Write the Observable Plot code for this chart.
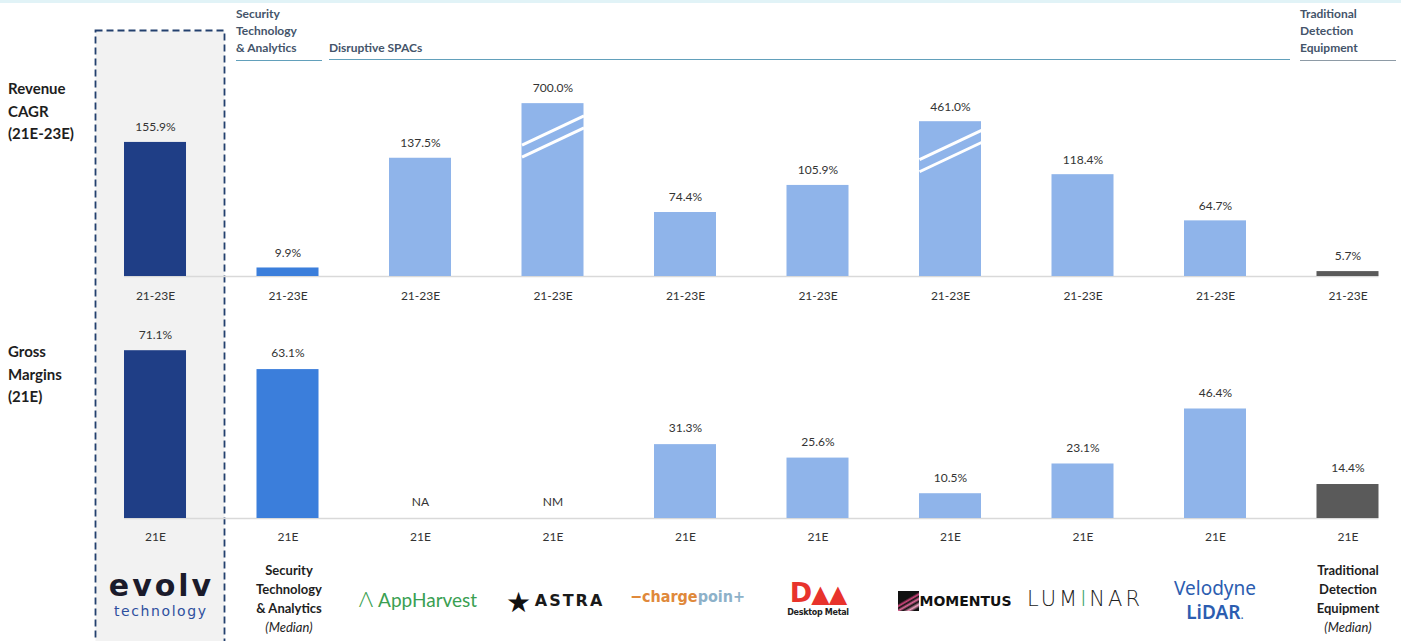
<!DOCTYPE html>
<html>
<head>
<meta charset="utf-8">
<script src="https://cdn.jsdelivr.net/npm/d3@7"></script>
<script src="https://cdn.jsdelivr.net/npm/@observablehq/plot@0.6"></script>
<style>
  html, body { margin: 0; padding: 0; background: #fff; }
  #page { position: relative; width: 1401px; height: 641px; overflow: hidden; font-family: Lato, "Open Sans", sans-serif; color: #222; }
  .abs { position: absolute; }
  .hdr { font-size: 12px; font-weight: 700; line-height: 17px; color: #44546a; }
  .rowlab { font-size: 15px; font-weight: 700; line-height: 22.5px; color: #1e1e1e; left: 8px; }
  .grp { font-size: 13px; font-weight: 700; line-height: 19px; color: #1e1e1e; text-align: center; width: 130px; }
  .grp i { font-weight: 400; }
  .logo { text-align: center; white-space: nowrap; }
  .plotwrap { position: absolute; left: 0; z-index: 2; }
</style>
</head>
<body>
<div id="page">
  <div class="abs" style="left:0;top:0;width:1401px;height:3px;background:#e1f3f7;"></div>
  <svg class="abs" style="left:0;top:0;z-index:0" width="1401" height="641">
    <rect x="95.5" y="30.5" width="129" height="620" fill="#f2f2f2" stroke="#23406e" stroke-width="1.8" stroke-dasharray="7,4"></rect>
  </svg>

  <div class="abs hdr" style="left:236px;top:5px;width:86px;border-bottom:1.5px solid #62a0bb;padding-bottom:4px;">Security<br>Technology<br>&amp; Analytics</div>
  <div class="abs hdr" style="left:329px;top:39px;width:961px;border-bottom:1.5px solid #62a0bb;padding-bottom:3px;">Disruptive SPACs</div>
  <div class="abs hdr" style="left:1300px;top:5px;width:96px;border-bottom:1.5px solid #8e9ba6;padding-bottom:4px;">Traditional<br>Detection<br>Equipment</div>

  <div class="abs rowlab" style="top:77px;">Revenue<br>CAGR<br>(21E-23E)</div>
  <div class="abs rowlab" style="top:340px;">Gross<br>Margins<br>(21E)</div>

  <div id="chartTop" class="plotwrap" style="top:0px;"></div>
  <div id="chartBottom" class="plotwrap" style="top:310px;"></div>

  <!-- logo row -->
  <div class="abs logo" style="left:95px;width:130px;top:569px;font-family:'DejaVu Sans';font-weight:700;font-size:30px;line-height:34px;color:#1b1b2b;letter-spacing:3px;text-indent:3px;">evolv</div>
  <div class="abs logo" style="left:95px;width:130px;top:603px;font-family:'DejaVu Sans';font-size:14px;line-height:16px;color:#2e4f9e;letter-spacing:1.6px;text-indent:1.6px;">technology</div>
  <div class="abs grp" style="left:224px;top:561px;">Security<br>Technology<br>&amp; Analytics<br><i>(Median)</i></div>
  <div class="abs logo" style="left:338px;width:160px;top:586px;font-size:19px;line-height:26px;color:#3a9f52;font-family:Lato;"><span style="font-weight:300;font-size:22px;">Λ</span> AppHarvest</div>
  <div class="abs logo" style="left:490px;width:130px;top:584px;line-height:30px;">
    <span style="font-size:28px;color:#111;vertical-align:middle;">★</span>
    <span style="font-family:'DejaVu Sans';font-weight:700;font-size:16px;letter-spacing:2px;color:#1a1a1a;vertical-align:middle;">ASTRA</span>
  </div>
  <div class="abs logo" style="left:620px;width:135px;top:585px;font-family:'DejaVu Sans Condensed','DejaVu Sans';font-stretch:condensed;font-weight:700;font-size:16px;line-height:24px;">
    <span style="color:#e0893b;">−charge</span><span style="color:#8db1c9;">poin+</span>
  </div>
  <div class="abs logo" style="left:768px;width:100px;top:579px;">
    <div style="font-family:'DejaVu Sans';font-weight:900;font-size:27px;line-height:27px;color:#e8332c;letter-spacing:-1px;">D<span style="font-size:24px;">▲▲</span></div>
    <div style="font-family:'DejaVu Sans';font-weight:700;font-size:8px;line-height:10px;color:#222;letter-spacing:-0.3px;">Desktop Metal</div>
  </div>
  <div class="abs logo" style="left:890px;width:130px;top:588px;line-height:22px;">
    <span style="display:inline-block;width:21px;height:20px;vertical-align:middle;background:linear-gradient(150deg,#111 0%,#111 40%,#d2457d 48%,#111 54%,#e06a9a 62%,#111 70%,#f0a0c0 80%,#111 90%);"></span><span style="font-family:'DejaVu Sans';font-weight:900;font-size:14px;color:#111;vertical-align:middle;letter-spacing:0px;">MOMENTUS</span>
  </div>
  <div class="abs logo" style="left:1020px;width:130px;top:585px;font-family:'DejaVu Sans';font-weight:200;font-size:21px;line-height:28px;letter-spacing:3px;color:#222;">LUM<span style="color:#3a9f6a;">I</span>NAR</div>
  <div class="abs logo" style="left:1150px;width:130px;top:576px;font-family:'Noto Sans';font-size:19px;line-height:24px;color:#2c5db0;"><div style="height:24px;">Velodyne</div><div style="height:24px;"><span style="font-weight:600;">LiDAR</span><span style="font-size:12px;">.</span></div></div>
  <div class="abs grp" style="left:1283px;top:561px;">Traditional<br>Detection<br>Equipment<br><i>(Median)</i></div>
</div>

<script>
// ---- data ----
const companies = ["Evolv Technology", "Security Technology & Analytics (Median)", "AppHarvest", "Astra", "ChargePoint", "Desktop Metal", "Momentus", "Luminar", "Velodyne Lidar", "Traditional Detection Equipment (Median)"];
const groups = ["evolv", "median", "spac", "spac", "spac", "spac", "spac", "spac", "spac", "traditional"];
const revenueCagr = [155.9, 9.9, 137.5, 700.0, 74.4, 105.9, 461.0, 118.4, 64.7, 5.7];
// bars drawn truncated (axis break) at these heights
const revenueCagrCap = [null, null, null, 201, null, null, 180, null, null, null];
const grossMargin = [71.1, 63.1, null, null, 31.3, 25.6, 10.5, 23.1, 46.4, 14.4];
const grossMarginNote = ["", "", "NA", "NM", "", "", "", "", "", ""];
const cagrPeriod = "21-23E";
const gmPeriod = "21E";
const groupNames = ["evolv", "median", "spac", "traditional"];
const groupColors = ["#1f3e86", "#3b7edb", "#8fb4ea", "#5a5a5a"];

// ---- build table ----
const rows = companies.map((c, i) => ({
  i, company: c, group: groups[i],
  cagr: revenueCagr[i], cap: revenueCagrCap[i],
  gm: grossMargin[i], note: grossMarginNote[i]
}));
const hw = 0.234; // half bar width in column units
const breaks = rows.filter(d => d.cap != null).flatMap(d => {
  const mid = d.cap * 0.81;
  return [{i: d.i, y: mid + 7}, {i: d.i, y: mid - 7}];
});

const common = {
  width: 1401,
  marginLeft: 124,
  marginRight: 22.5,
  x: {type: "linear", domain: [-hw, 9 + hw], axis: null},
  color: {domain: groupNames, range: groupColors},
  style: {fontFamily: "Lato, 'Open Sans', sans-serif", fontSize: "12px", background: "transparent", overflow: "visible", color: "#333"}
};

const chartTop = Plot.plot({
  ...common,
  height: 310,
  marginTop: 61,
  marginBottom: 34,
  y: {domain: [0, 250], axis: null},
  marks: [
    Plot.ruleY([0], {stroke: "#d9d9d9", strokeWidth: 1.5}),
    Plot.rect(rows, {x1: d => d.i - hw, x2: d => d.i + hw, y1: d => 0, y2: d => d.cap ?? d.cagr, fill: "group"}),
    Plot.link(breaks, {x1: d => d.i - hw, x2: d => d.i + hw, y1: d => d.y - 17, y2: d => d.y + 17, stroke: "white", strokeWidth: 3}),
    Plot.text(rows, {x: "i", y: d => d.cap ?? d.cagr, text: d => d.cagr.toFixed(1) + "%", dy: -15, fill: "#333", fontSize: 12}),
    Plot.text(rows, {x: "i", y: d => 0, text: () => cagrPeriod, dy: 20, fill: "#333", fontSize: 12})
  ]
});
document.getElementById("chartTop").append(chartTop);

const chartBottom = Plot.plot({
  ...common,
  height: 240,
  marginTop: 19.2,
  marginBottom: 32,
  y: {domain: [0, 80], axis: null},
  marks: [
    Plot.ruleY([0], {stroke: "#d9d9d9", strokeWidth: 1.5}),
    Plot.rect(rows.filter(d => d.gm != null), {x1: d => d.i - hw, x2: d => d.i + hw, y1: d => 0, y2: "gm", fill: "group"}),
    Plot.text(rows, {x: "i", y: d => d.gm ?? 0, text: d => d.gm == null ? d.note : d.gm.toFixed(1) + "%", dy: -16, fill: "#333", fontSize: 12}),
    Plot.text(rows, {x: "i", y: d => 0, text: () => gmPeriod, dy: 19, fill: "#333", fontSize: 12})
  ]
});
document.getElementById("chartBottom").append(chartBottom);
</script>
</body>
</html>
